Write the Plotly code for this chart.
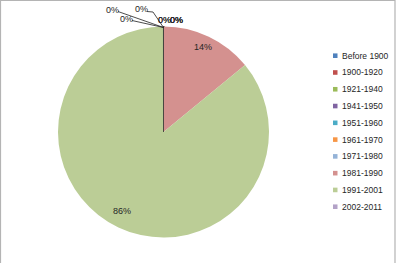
import plotly.graph_objects as go

categories = ["Before 1900", "1900-1920", "1921-1940", "1941-1950", "1951-1960",
              "1961-1970", "1971-1980", "1981-1990", "1991-2001", "2002-2011"]
values = [0.01, 0.01, 0.01, 0.01, 0.01, 0.01, 0.01, 14, 86, 0.01]
colors = ["#4F81BD", "#C0504D", "#9BBB59", "#8064A2", "#4BACC6",
          "#F79646", "#95B3D7", "#D4918F", "#BBCD96", "#B3A2C7"]

W, H = 396, 263
FONT = "Liberation Sans"
TXT = "#262626"

total = sum(values)
big = [v / total >= 0.01 for v in values]
line_colors = [c if b else "#303030" for c, b in zip(colors, big)]
line_widths = [0 if b else 0.5 for b in big]

cx, cy, r = 163.5, 132, 105.5

fig = go.Figure(go.Pie(
    labels=categories,
    values=values,
    sort=False,
    direction="clockwise",
    rotation=0,
    marker=dict(colors=colors, line=dict(color=line_colors, width=line_widths)),
    textinfo="none",
    domain=dict(x=[(cx - r) / W, (cx + r) / W], y=[(H - cy - r) / H, (H - cy + r) / H]),
    hoverinfo="label+percent",
    showlegend=False,
))

shapes = [dict(type="rect", xref="paper", yref="paper", x0=0.5 / W, x1=1 - 1 / W, y0=-0.05, y1=1 - 0.5 / H,
               line=dict(color="#B4B4B4", width=1.2), fillcolor="rgba(0,0,0,0)")]
annotations = []

# custom legend
for i, (name, col) in enumerate(zip(categories, colors)):
    yc = 55.7 + i * 16.78
    shapes.append(dict(type="rect", xref="paper", yref="paper",
                       x0=333 / W, x1=337.5 / W, y0=1 - (yc + 2.3) / H, y1=1 - (yc - 2.3) / H,
                       line=dict(width=0), fillcolor=col))
    annotations.append(dict(x=340 / W, y=1 - yc / H, xref="paper", yref="paper", text=name,
                            showarrow=False, xanchor="left", yanchor="middle",
                            font=dict(family=FONT, size=8.5, color=TXT)))

# data labels (Excel layout: big slices inside near the rim, tiny slices stacked at the top)
label_pos = {7: (203.5, 47), 8: (122, 211)}
small_pos = [(112, 9.5), (126, 19), (141, 9), (164, 20), (164, 20), (176, 20), (176, 20), (176, 20)]
k = 0
for i, v in enumerate(values):
    if big[i]:
        x, y = label_pos[i]
    else:
        x, y = small_pos[k]
        k += 1
    annotations.append(dict(x=x / W, y=1 - y / H, xref="paper", yref="paper",
                            text=f"{round(v / total * 100):.0f}%",
                            showarrow=False, xanchor="center", yanchor="middle",
                            font=dict(family=FONT, size=9, color=TXT)))

leaders = [[(118, 11.5), (163.5, 27.5)], [(132, 20.5), (163.5, 27.5)],
           [(147, 11.5), (153, 12), (163.5, 27.5)]]
for pts in leaders:
    for (x0, y0), (x1, y1) in zip(pts[:-1], pts[1:]):
        shapes.append(dict(type="line", xref="paper", yref="paper",
                           x0=x0 / W, y0=1 - y0 / H, x1=x1 / W, y1=1 - y1 / H,
                           line=dict(color="#202020", width=0.8)))

fig.update_layout(
    width=W, height=H,
    margin=dict(l=0, r=0, t=0, b=0),
    paper_bgcolor="white",
    font=dict(family=FONT, size=8, color=TXT),
    showlegend=False,
    shapes=shapes,
    annotations=annotations,
)

fig.write_html("out.html")
